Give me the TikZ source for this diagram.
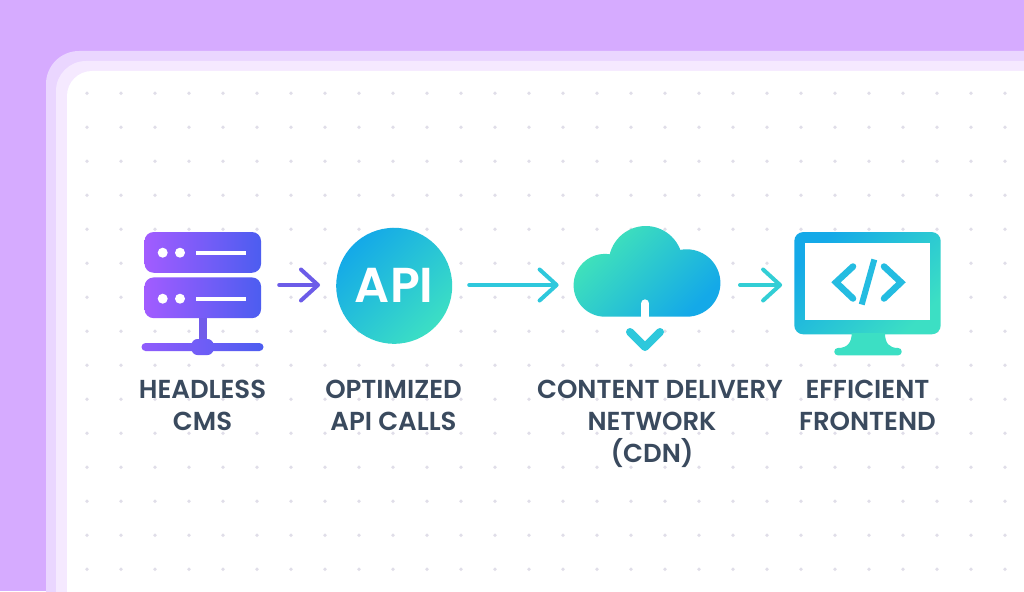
\documentclass[tikz,border=0pt]{standalone}
\usepackage{fontspec}
\setmainfont{Poppins}
\newfontfamily\labelfont{Poppins SemiBold}
\usetikzlibrary{arrows.meta, calc, positioning}

\definecolor{lilac}{HTML}{D6ABFF}
\definecolor{panelouter}{HTML}{EAD6FF}
\definecolor{panelinner}{HTML}{F5E9FF}
\definecolor{griddot}{HTML}{E0DEE9}
\definecolor{labelink}{HTML}{3A4A5E}
\definecolor{violet}{HTML}{A25CFF}
\definecolor{indigo}{HTML}{4C5DF0}
\definecolor{arrowviolet}{HTML}{6C5CE8}
\definecolor{arrowcyan}{HTML}{2EC8DC}
\definecolor{skyblue}{HTML}{14A9E8}
\definecolor{mint}{HTML}{42E5B8}
\definecolor{softmint}{HTML}{3CDFC4}

\tikzset{
    serverbox/.style={rectangle, rounded corners=9pt, inner sep=0pt, minimum width=116.5pt, minimum height=40.7pt, left color=violet, right color=indigo},
    ghostbox/.style={rectangle, inner sep=0pt, minimum height=60pt},
    labeltext/.style={text=labelink, font=\labelfont\fontsize{26}{32}\selectfont, align=center, inner sep=0pt},
    flow/.style={line width=4pt, line cap=round, -{Straight Barb[length=17pt, width=31pt, line width=4pt, round]}},
    bluemint/.style={top color=skyblue, bottom color=softmint, shading angle=45},
    mintblue/.style={top color=mint, bottom color=skyblue, shading angle=45}
}

\begin{document}
\begin{tikzpicture}[x=1pt, y=1pt]
    \useasboundingbox (0, 0) rectangle (1024, -591);
    \clip (0, 0) rectangle (1024, -591);

    % backdrop
    \fill[lilac] (0, 0) rectangle (1024, -591);
    \fill[panelouter, rounded corners=33pt] (46, -51) rectangle (1120, -700);
    \fill[panelinner, rounded corners=30pt] (56, -61) rectangle (1120, -700);
    \fill[white, rounded corners=25pt] (67, -71) rectangle (1120, -700);
    \foreach \gx in {87, 121, ..., 1005} {
        \foreach \gy in {93, 127, ..., 570} {
            \fill[griddot] (\gx, -\gy - 0.3) circle (1.9pt);
        }
    }

    % headless cms
    \node[ghostbox, minimum width=122pt] (cms) at (202.5, -285) {};
    \fill[arrowviolet!90!violet] (199, -316) rectangle (206.7, -345);
    \node[serverbox] (srvtop) at (202.8, -252.4) {};
    \node[serverbox] (srvbot) at (202.8, -297.8) {};
    \shade[left color=violet!80!indigo, right color=indigo]
        [rounded corners=4pt] (263.5, -351) -- (263.5, -343) -- (141.5, -343) -- (141.5, -351) -- cycle
        [rounded corners=6pt] (213.5, -355) -- (213.5, -339) -- (191.5, -339) -- (191.5, -355) -- cycle;
    \foreach \sy in {-252.7, -298.7} {
        \fill[white] (162.7, \sy) circle (5pt) (180, \sy) circle (5pt);
        \draw[white, line width=3.6pt] (196, \sy) -- (246, \sy);
    }

    % api
    \node[circle, bluemint, minimum size=116pt, inner sep=0pt, text=white, font=\labelfont\fontsize{49}{49}\selectfont] (api) at (394.2, -285.8) {API};

    % cdn
    \node[ghostbox, minimum width=147pt] (cdn) at (647.3, -285) {};
    \path[mintblue]
        (605, -285.3) circle (31.4pt)
        (645.7, -263) circle (37pt)
        (686.7, -283) circle (33.7pt)
        (605, -316.7) -- (686.7, -316.7) -- (686.7, -283) -- (605, -283) -- cycle;
    \draw[white, line width=8.3pt, line cap=round] (645.2, -303.5) -- (645.2, -316);
    \fill[white] (641, -310) rectangle (649.4, -317.5);
    \draw[arrowcyan, line width=8pt, line cap=round, line join=round] (630, -332) -- (645, -347) -- (660, -332);

    % frontend
    \node[rectangle, rounded corners=9pt, bluemint, inner sep=0pt, minimum width=146.4pt, minimum height=102.3pt] (monitor) at (867.5, -283.2) {};
    \fill[softmint] (851.7, -333) .. controls (851.7, -343) and (847, -348) .. (838, -348)
        -- (898, -348) .. controls (889, -348) and (885, -343) .. (885, -333) -- cycle;
    \fill[softmint, rounded corners=3.5pt] (834.3, -348) rectangle (901.7, -355.3);
    \fill[white] (805.3, -242.7) rectangle (930.3, -320);
    \draw[arrowcyan!60!skyblue, line width=6.5pt, line cap=round, line join=miter]
        (853, -266.5) -- (836, -282.3) -- (853, -298.5)
        (884, -266.5) -- (901, -282.3) -- (884, -298.5);
    \draw[arrowcyan!60!skyblue, line width=6pt] (874.3, -259.5) -- (861.7, -304.5);

    % connectors
    \draw[flow, arrowviolet, shorten <=15.5pt, shorten >=16pt] (cms.east) -- (cms.east -| api.west);
    \draw[flow, arrowcyan, shorten <=16.8pt, shorten >=15pt] (cdn.west -| api.east) -- (cdn.west);
    \draw[flow, arrowcyan!80!mint, shorten <=19pt, shorten >=12pt] (cdn.east) -- (cdn.east -| monitor.west);

    % labels
    \node[labeltext] (cmstext) at (202.5, -405) {HEADLESS\\CMS};
    \node[labeltext] (apitext) at (393.5, -405) {OPTIMIZED\\API CALLS};
    \node[labeltext] (cdntext) at (660, -389) {CONTENT DELIVERY};
    \node[labeltext] (cdnsub) at (652, -440) {NETWORK\\(CDN)};
    \node[labeltext] (fronttext) at (867.5, -405) {EFFICIENT\\FRONTEND};
\end{tikzpicture}
\end{document}
